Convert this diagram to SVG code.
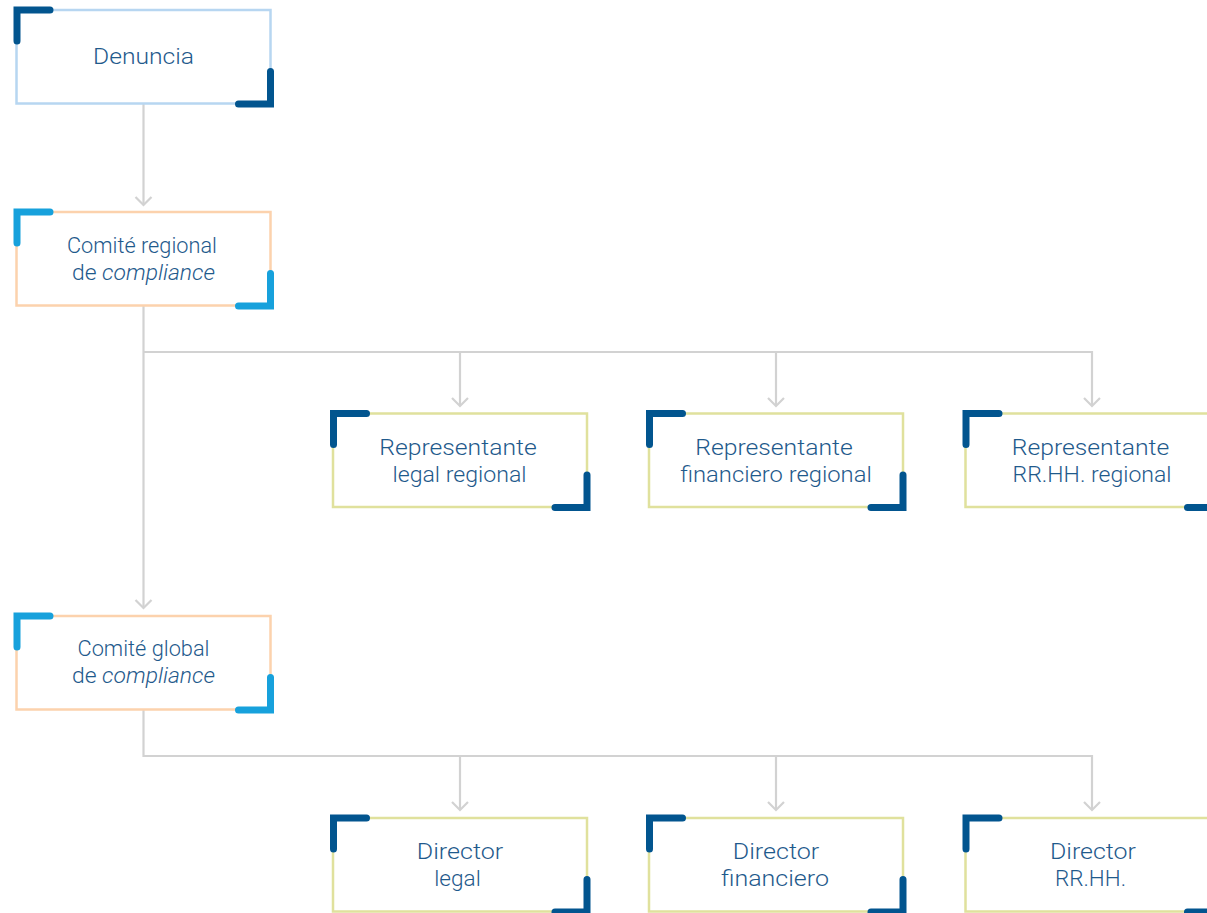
<svg xmlns="http://www.w3.org/2000/svg" width="1207" height="913" viewBox="0 0 1207 913">
<defs>
<marker id="chev" markerUnits="userSpaceOnUse" viewBox="-10 -10 12 20" markerWidth="12" markerHeight="20" refX="0" refY="0" orient="auto">
<path d="M-8,-8 L0,0 L-8,8" fill="none" stroke="#d2d2d2" stroke-width="2.2"/>
</marker>
</defs>
<style>
.box{fill:#ffffff;stroke-width:2.5}
.b-blue{stroke:#b7d6f1}
.b-peach{stroke:#fcd2ad}
.b-yel{stroke:#e0e19d}
.br{fill:none;stroke-width:7;stroke-linecap:round;stroke-linejoin:miter}
.dark{stroke:#02558f}
.light{stroke:#17a1dc}
.lbl{font-family:Roboto,"Open Sans","Liberation Sans",sans-serif;font-weight:300;font-size:22.4px;fill:#1f5a8c;text-anchor:middle}
.it{font-style:italic}
.con{fill:none;stroke:#d2d2d2;stroke-width:2.2}
</style>
<rect width="1207" height="913" fill="#ffffff"/>

<g id="connectors">
<path class="con" d="M143.5,104 V205" marker-end="url(#chev)"/>
<path class="con" d="M143.5,306 V608" marker-end="url(#chev)"/>
<path class="con" d="M143.5,352 H1092 V406" marker-end="url(#chev)"/>
<path class="con" d="M460,352 V406" marker-end="url(#chev)"/>
<path class="con" d="M776,352 V406" marker-end="url(#chev)"/>
<path class="con" d="M143.5,709 V756 H1092 V810" marker-end="url(#chev)"/>
<path class="con" d="M460,756 V810" marker-end="url(#chev)"/>
<path class="con" d="M776,756 V810" marker-end="url(#chev)"/>
</g>

<g id="denuncia">
<rect class="box b-blue" x="16.5" y="10" width="254" height="93.5"/>
<path class="br dark" d="M17,41 V10 H50"/>
<path class="br dark" d="M238.5,104 H270.5 V71.5"/>
<text class="lbl" x="143.5" y="64" textLength="101" lengthAdjust="spacingAndGlyphs">Denuncia</text>
</g>

<g id="comite-regional">
<rect class="box b-peach" x="16.5" y="212" width="254" height="93.5"/>
<path class="br light" d="M17,243 V212 H50"/>
<path class="br light" d="M238.5,306 H270.5 V273.5"/>
<text class="lbl" x="142" y="253" textLength="150" lengthAdjust="spacingAndGlyphs">Comité regional</text>
<text class="lbl" x="143.5" y="279.5" textLength="143" lengthAdjust="spacingAndGlyphs">de <tspan class="it">compliance</tspan></text>
</g>

<g id="comite-global">
<rect class="box b-peach" x="16.5" y="616" width="254" height="93.5"/>
<path class="br light" d="M17,647 V616 H50"/>
<path class="br light" d="M238.5,710 H270.5 V677.5"/>
<text class="lbl" x="143.5" y="656" textLength="132" lengthAdjust="spacingAndGlyphs">Comité global</text>
<text class="lbl" x="143.5" y="682.5" textLength="143" lengthAdjust="spacingAndGlyphs">de <tspan class="it">compliance</tspan></text>
</g>

<g id="rep-legal">
<rect class="box b-yel" x="333" y="413.5" width="254" height="93.5"/>
<path class="br dark" d="M333.5,444.5 V413.5 H366.5"/>
<path class="br dark" d="M555,507.5 H587 V475"/>
<text class="lbl" x="458" y="455" textLength="157.5" lengthAdjust="spacingAndGlyphs">Representante</text>
<text class="lbl" x="459.5" y="481.5" textLength="134" lengthAdjust="spacingAndGlyphs">legal regional</text>
</g>

<g id="rep-financiero">
<rect class="box b-yel" x="649" y="413.5" width="254" height="93.5"/>
<path class="br dark" d="M649.5,444.5 V413.5 H682.5"/>
<path class="br dark" d="M871,507.5 H903 V475"/>
<text class="lbl" x="774" y="455" textLength="157.5" lengthAdjust="spacingAndGlyphs">Representante</text>
<text class="lbl" x="776" y="481.5" textLength="191.5" lengthAdjust="spacingAndGlyphs">financiero regional</text>
</g>

<g id="rep-rrhh">
<rect class="box b-yel" x="965.5" y="413.5" width="254" height="93.5"/>
<path class="br dark" d="M966,444.5 V413.5 H999"/>
<path class="br dark" d="M1187.5,507.5 H1219.5 V475"/>
<text class="lbl" x="1090.5" y="455" textLength="157.5" lengthAdjust="spacingAndGlyphs">Representante</text>
<text class="lbl" x="1092" y="481.5" textLength="159" lengthAdjust="spacingAndGlyphs">RR.HH. regional</text>
</g>

<g id="dir-legal">
<rect class="box b-yel" x="333" y="818" width="254" height="93.5"/>
<path class="br dark" d="M333.5,849 V818 H366.5"/>
<path class="br dark" d="M555,912 H587 V879.5"/>
<text class="lbl" x="460" y="859" textLength="86.5" lengthAdjust="spacingAndGlyphs">Director</text>
<text class="lbl" x="457.5" y="885.5" textLength="46.5" lengthAdjust="spacingAndGlyphs">legal</text>
</g>

<g id="dir-financiero">
<rect class="box b-yel" x="649" y="818" width="254" height="93.5"/>
<path class="br dark" d="M649.5,849 V818 H682.5"/>
<path class="br dark" d="M871,912 H903 V879.5"/>
<text class="lbl" x="776" y="859" textLength="86.5" lengthAdjust="spacingAndGlyphs">Director</text>
<text class="lbl" x="775" y="885.5" textLength="108" lengthAdjust="spacingAndGlyphs">financiero</text>
</g>

<g id="dir-rrhh">
<rect class="box b-yel" x="965.5" y="818" width="254" height="93.5"/>
<path class="br dark" d="M966,849 V818 H999"/>
<path class="br dark" d="M1187.5,912 H1219.5 V879.5"/>
<text class="lbl" x="1093" y="859" textLength="86" lengthAdjust="spacingAndGlyphs">Director</text>
<text class="lbl" x="1090.5" y="885.5" textLength="71" lengthAdjust="spacingAndGlyphs">RR.HH.</text>
</g>
</svg>
